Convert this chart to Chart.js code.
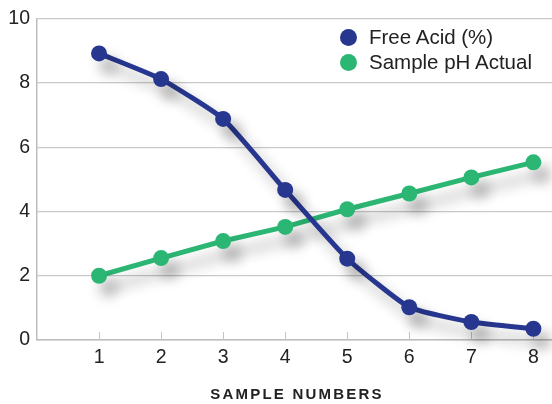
<!DOCTYPE html>
<html>
<head>
<meta charset="utf-8">
<script src="https://cdn.jsdelivr.net/npm/chart.js@4/dist/chart.umd.min.js"></script>
<style>
  body{margin:0;background:#fff;font-family:"Liberation Sans",Arial,sans-serif;}
  #wrap{position:relative;width:552px;height:404px;}
  #legend{position:absolute;left:340px;top:25px;font-size:20.5px;color:#222;line-height:24.5px;}
  #legend span.dot{display:inline-block;width:17px;height:17px;border-radius:50%;vertical-align:-2px;margin-right:12px;}
  #xtitle{position:absolute;left:0;width:594px;top:385px;text-align:center;font-weight:bold;font-size:15px;letter-spacing:2.2px;color:#222;}
</style>
</head>
<body>
<div id="wrap">
  <canvas id="myChart" width="552" height="404"></canvas>
  <div id="legend"></div>
  <div id="xtitle">SAMPLE NUMBERS</div>
</div>
<script>
'use strict';
const sampleNums = [1, 2, 3, 4, 5, 6, 7, 8];
const freeAcid = [8.92, 8.12, 6.88, 4.67, 2.53, 1.02, 0.56, 0.35];
const samplePh = [2.0, 2.55, 3.08, 3.52, 4.07, 4.56, 5.06, 5.53];
const yTicks = [0, 2, 4, 6, 8, 10];
const seriesNames = ['Free Acid (%)', 'Sample pH Actual'];
const blue = '#27378f';
const green = '#2cb673';

function toPoints(vals){
  let pts = [];
  for(let i = 0; i < sampleNums.length; i++){
    pts.push({x: sampleNums[i], y: vals[i]});
  }
  return pts;
}

// soft drop shadow under the lines
const shadowPlugin = {
  id: 'shadow',
  beforeDatasetDraw(chart){
    const ctx = chart.ctx;
    ctx.save();
    ctx.shadowColor = 'rgba(0,0,0,0.32)';
    ctx.shadowBlur = 14;
    ctx.shadowOffsetX = 9;
    ctx.shadowOffsetY = 12;
  },
  afterDatasetDraw(chart){
    chart.ctx.restore();
  }
};

// short x ticks pointing up into the plot
const xTickPlugin = {
  id: 'xTicks',
  beforeDatasetsDraw(chart){
    const ctx = chart.ctx;
    const xs = chart.scales.x;
    const bottom = chart.chartArea.bottom;
    ctx.save();
    ctx.strokeStyle = '#c4c4c4';
    ctx.lineWidth = 1;
    for(let i = 0; i < sampleNums.length; i++){
      let px = Math.round(xs.getPixelForValue(sampleNums[i])) + 0.5;
      ctx.beginPath();
      ctx.moveTo(px, bottom - 8);
      ctx.lineTo(px, bottom);
      ctx.stroke();
    }
    ctx.restore();
  }
};

const tickFont = {size: 19.5, family: '"Liberation Sans", Arial, sans-serif'};

let ctx = document.getElementById('myChart').getContext('2d');
let myChart = new Chart(ctx, {
  type: 'line',
  data: {
    datasets: [{
      label: seriesNames[0],
      data: toPoints(freeAcid),
      borderColor: blue,
      backgroundColor: blue,
      borderWidth: 5,
      pointRadius: 8,
      pointBorderWidth: 0,
      tension: 0.15,
      clip: false
    },{
      label: seriesNames[1],
      data: toPoints(samplePh),
      borderColor: green,
      backgroundColor: green,
      borderWidth: 5,
      pointRadius: 8,
      pointBorderWidth: 0,
      tension: 0,
      clip: false
    }]
  },
  options: {
    responsive: false,
    animation: false,
    layout: {autoPadding: false, padding: {top: 16, right: 0, bottom: 0, left: 0}},
    plugins: {
      legend: {display: false},
      tooltip: {enabled: false}
    },
    scales: {
      x: {
        type: 'linear',
        min: 0,
        max: 8.3,
        afterFit(scale){
          scale.height = 64;
          scale.paddingRight = 0;
          scale.paddingLeft = 0;
        },
        afterBuildTicks(scale){
          scale.ticks = sampleNums.map(v => ({value: v}));
        },
        ticks: {
          font: tickFont,
          color: '#222',
          padding: 6,
          maxRotation: 0
        },
        grid: {display: false, drawTicks: false},
        border: {display: true, color: '#bdbdbd', width: 1.5}
      },
      y: {
        min: 0,
        max: 10,
        afterFit(scale){ scale.width = 37; },
        afterBuildTicks(scale){
          scale.ticks = yTicks.map(v => ({value: v}));
        },
        ticks: {
          font: tickFont,
          color: '#222',
          padding: 7
        },
        grid: {color: '#c9c9c9', lineWidth: 1.2, drawTicks: false},
        border: {display: true, color: '#bdbdbd', width: 1.5}
      }
    }
  },
  plugins: [shadowPlugin, xTickPlugin]
});

// html legend
const legendEl = document.getElementById('legend');
[blue, green].forEach(function(c, i){
  let row = document.createElement('div');
  let dot = document.createElement('span');
  dot.className = 'dot';
  dot.style.background = c;
  row.appendChild(dot);
  row.appendChild(document.createTextNode(seriesNames[i]));
  legendEl.appendChild(row);
});
</script>
</body>
</html>
